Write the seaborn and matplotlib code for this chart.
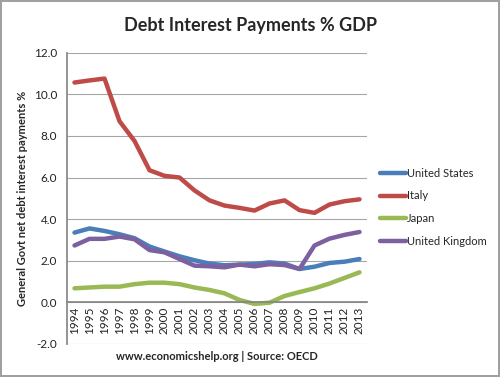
import matplotlib
matplotlib.use("Agg")
import matplotlib.pyplot as plt
import seaborn as sns
import pandas as pd

years = list(range(1994, 2014))
united_states = [3.35, 3.55, 3.43, 3.27, 3.08, 2.68, 2.44, 2.21, 2.02, 1.86,
                 1.78, 1.81, 1.84, 1.92, 1.86, 1.60, 1.71, 1.89, 1.95, 2.08]
italy = [10.57, 10.67, 10.76, 8.71, 7.76, 6.35, 6.08, 6.00, 5.38, 4.90,
         4.65, 4.54, 4.41, 4.75, 4.90, 4.43, 4.30, 4.70, 4.86, 4.95]
japan = [0.67, 0.71, 0.75, 0.75, 0.87, 0.94, 0.94, 0.87, 0.71, 0.59,
         0.43, 0.11, -0.08, -0.02, 0.30, 0.49, 0.67, 0.90, 1.17, 1.44]
united_kingdom = [2.73, 3.05, 3.05, 3.16, 3.03, 2.51, 2.40, 2.08, 1.76, 1.73,
                  1.68, 1.81, 1.73, 1.83, 1.79, 1.60, 2.73, 3.06, 3.24, 3.38]
series_names = ["United States", "Italy", "Japan", "United Kingdom"]
colors = ["#4A7EBB", "#BE4B48", "#98B954", "#7D60A0"]
y_ticks = [-2, 0, 2, 4, 6, 8, 10, 12]

sns.set_theme(style="white")
plt.rcParams['font.family'] = ['Lato', 'DejaVu Sans']

rows = []
for name, vals in zip(series_names, [united_states, italy, japan, united_kingdom]):
    for y, v in zip(years, vals):
        rows.append({"Year": y, "Value": v, "Series": name})
df = pd.DataFrame(rows)

fig = plt.figure(figsize=(5.0, 3.77), dpi=100)
fig.patch.set_edgecolor("#A0A0A0")
fig.patch.set_linewidth(1.5)
ax = fig.add_axes([0.134, 0.088, 0.60, 0.772])

sns.lineplot(data=df, x="Year", y="Value", hue="Series", hue_order=series_names,
             palette=colors, linewidth=3.2, ax=ax, legend=True)

for s in ["top", "right"]:
    ax.spines[s].set_visible(False)
ax.spines["left"].set_color("#868686")
ax.spines["bottom"].set_position(("data", 0))
ax.spines["bottom"].set_color("#868686")

ax.set_ylim(-2, 12)
ax.set_xlim(1993.5, 2013.5)
ax.set_yticks(y_ticks)
ax.set_yticklabels([f"{t:.1f}" for t in y_ticks])
ax.set_xticks(years)
ax.set_xticklabels([str(y) for y in years])
ax.tick_params(axis="y", which="major", length=4, color="#868686", direction="out",
               pad=3, labelsize=8.5, labelcolor="#222222")
ax.tick_params(axis="x", which="major", length=0, pad=3, labelsize=8.5,
               labelcolor="#222222", labelrotation=90)
ax.grid(axis="y", color="#A6A6A6", linewidth=0.8)
ax.set_axisbelow(True)

ax.set_ylabel("General Govt net debt interest payments %", fontsize=8,
              fontweight="bold")
ax.yaxis.set_label_coords(-0.13, 0.5)
ax.set_xlabel("www.economicshelp.org | Source: OECD", fontsize=8,
              fontweight="bold")
ax.xaxis.set_label_coords(0.5, -0.025)

fig.suptitle("Debt Interest Payments % GDP", fontsize=13, fontweight="bold",
             x=0.5, y=0.955)

leg = ax.legend(loc="upper left", bbox_to_anchor=(1.03, 0.62), frameon=False,
                fontsize=8, handlelength=2.3, handletextpad=0.1,
                labelspacing=1.05, borderaxespad=0)
for line in leg.get_lines():
    line.set_linewidth(3.2)

fig.savefig("out.png", dpi=100, edgecolor=fig.get_edgecolor())
